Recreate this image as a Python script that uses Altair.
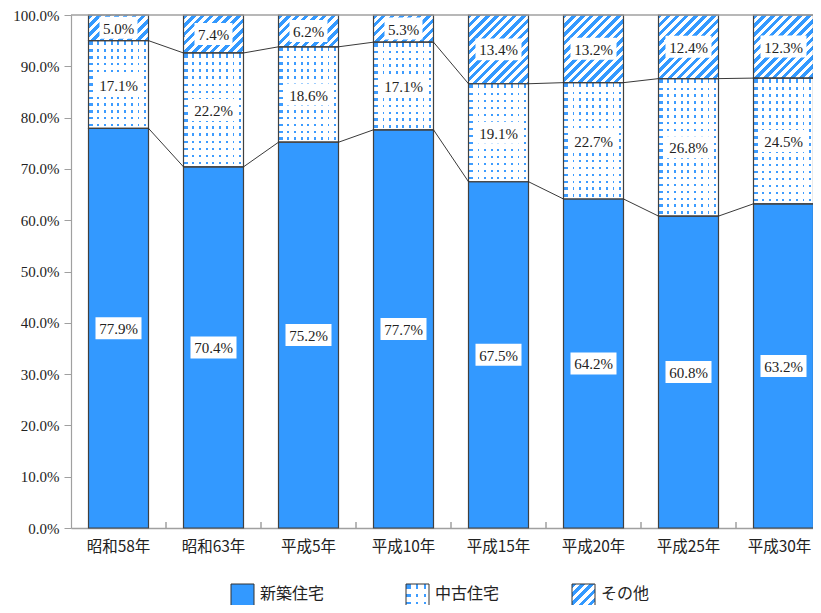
import math
import altair as alt
import pandas as pd

categories = ["昭和58年", "昭和63年", "平成5年", "平成10年", "平成15年", "平成20年", "平成25年", "平成30年"]
series_names = ["新築住宅", "中古住宅", "その他"]
new_build = [77.9, 70.4, 75.2, 77.7, 67.5, 64.2, 60.8, 63.2]
used_home = [17.1, 22.2, 18.6, 17.1, 19.1, 22.7, 26.8, 24.5]
other = [5.0, 7.4, 6.2, 5.3, 13.4, 13.2, 12.4, 12.3]
y_ticks = [0, 10, 20, 30, 40, 50, 60, 70, 80, 90, 100]

# ---- layout / style ----
W, H = 742, 513
STEP = 95.0
RANGE_END = STEP * len(categories)
BW = 60.0
P_IN = 1 - BW / STEP
BLUE = "#3399ff"
DOT = "#3d9cff"
EDGE = "#404040"
GRAY = "#a0a0a0"
SERIF = "Liberation Serif"
CJK = "Noto Sans CJK JP"
CLEAR = "#ffffff00"

rows = []
for i, c in enumerate(categories):
    vals = [new_build[i], used_home[i], other[i]]
    tot = sum(vals)
    base = 0.0
    for s, v in zip(series_names, vals):
        y0 = base
        y1 = base + v * 100.0 / tot
        rows.append(dict(period=c, series=s, v=v, y0=y0, y1=y1, mid=(y0 + y1) / 2,
                         label=f"{v:.1f}%"))
        base = y1
df = pd.DataFrame(rows)

links = []
for s in series_names[:2]:
    sub = df[df["series"] == s].reset_index(drop=True)
    for i in range(len(sub) - 1):
        links.append(dict(period=sub["period"][i], period2=sub["period"][i + 1],
                          ya=sub["y1"][i], yb=sub["y1"][i + 1]))
links = pd.DataFrame(links)

xscale = alt.Scale(domain=categories, range=[0, RANGE_END], paddingInner=P_IN, paddingOuter=P_IN / 2)
xaxis = alt.Axis(title=None, labelAngle=0, labelFont=CJK, labelFontSize=15.5, labelColor="#222",
                 labelPadding=11, tickSize=0, domainColor=GRAY, domainWidth=1.5, grid=False,
                 labelOffset={"condition": {"test": f"datum.value === '{categories[-1]}'", "value": -4},
                              "value": 0})
yscale = alt.Scale(domain=[0, 100], nice=False)
yaxis = alt.Axis(title=None, values=y_ticks, labelExpr="format(datum.value, '.1f') + '%'",
                 labelFont=SERIF, labelFontSize=15, labelColor="#222", labelPadding=5,
                 tickSize=7, tickColor=GRAY, domainColor=GRAY, domainWidth=1.2, grid=False)


def X(field="period"):
    return alt.X(f"{field}:N", sort=categories, scale=xscale, axis=xaxis)


def Y(field):
    return alt.Y(f"{field}:Q", scale=yscale, axis=yaxis)


def stripe_stops(n, frac, c1, c2, start=0.0):
    stops = []
    k = 0
    while True:
        a = (k + start) / n
        b = (k + start + frac) / n
        e = (k + 1 + start) / n
        if a >= 1:
            break
        stops.append({"offset": round(min(a, 1), 5), "color": c1})
        stops.append({"offset": round(min(b, 1), 5), "color": c1})
        if b < 1:
            stops.append({"offset": round(min(b, 1), 5), "color": c2})
            stops.append({"offset": round(min(e, 1), 5), "color": c2})
        k += 1
    return stops


def vert_dots(w):
    n = max(1, round(w / 6.7))
    return {"gradient": "linear", "x1": 0, "y1": 0, "x2": 1, "y2": 0,
            "stops": stripe_stops(n, 0.27, DOT, "#ffffff", 0.35)}


def horiz_mask(h):
    n = max(1, round(h / 7.0))
    return {"gradient": "linear", "x1": 0, "y1": 0, "x2": 0, "y2": 1,
            "stops": stripe_stops(n, 0.36, CLEAR, "#ffffff", 0.3)}


def diag(w, h):
    c = (w + h) / (w * w + h * h)
    n = (w + h) / 9.0
    return {"gradient": "linear", "x1": 0, "y1": 0, "x2": round(c * w, 5), "y2": round(c * h, 5),
            "stops": stripe_stops(n, 0.5, BLUE, "#ffffff")}


base = alt.Chart(df)
layers = []

# new-build bars
layers.append(base.transform_filter(alt.datum.series == series_names[0])
              .mark_bar(fill=BLUE).encode(x=X(), y=Y("y1"), y2="y0"))

# used-home dotted pattern
used_df = df[df["series"] == series_names[1]]
layers.append(alt.Chart(used_df).mark_bar(fill="white").encode(x=X(), y=Y("y1"), y2="y0"))
layers.append(alt.Chart(used_df).mark_bar(fill=vert_dots(BW)).encode(x=X(), y=Y("y1"), y2="y0"))
for _, r in used_df.iterrows():
    h = (r["y1"] - r["y0"]) / 100 * H
    layers.append(alt.Chart(used_df[used_df["period"] == r["period"]]).mark_bar(fill=horiz_mask(h))
                  .encode(x=X(), y=Y("y1"), y2="y0"))

# other: diagonal stripes
oth_df = df[df["series"] == series_names[2]]
for _, r in oth_df.iterrows():
    h = (r["y1"] - r["y0"]) / 100 * H
    layers.append(alt.Chart(oth_df[oth_df["period"] == r["period"]]).mark_bar(fill=diag(BW, h))
                  .encode(x=X(), y=Y("y1"), y2="y0"))

# outlines
layers.append(base.mark_bar(fillOpacity=0, stroke=EDGE, strokeWidth=1.2)
              .encode(x=X(), y=Y("y1"), y2="y0"))

# series lines
layers.append(alt.Chart(links).mark_rule(color="#222", strokeWidth=0.9,
                                          xOffset=BW / 2, x2Offset=-BW / 2)
              .encode(x=X(), x2="period2:N", y=Y("ya"), y2="yb"))

# x ticks between categories
tick_df = pd.DataFrame({"period": categories[1:]})
layers.append(alt.Chart(tick_df).mark_rule(color=GRAY, strokeWidth=1.5, xOffset=-STEP / 2)
              .encode(x=X(), y=alt.value(H), y2=alt.value(H - 6)))

# top frame line
layers.append(alt.Chart(tick_df.head(1)).mark_rule(color=GRAY, strokeWidth=1.5)
              .encode(x=alt.value(0), x2=alt.value(W + 20), y=alt.value(0)))

# label boxes
wide_path = "M-1,-0.478L1,-0.478L1,0.478L-1,0.478Z"
narrow_path = "M-1,-0.579L1,-0.579L1,0.579L-1,0.579Z"
layers.append(base.transform_filter("datum.v >= 10")
              .mark_point(shape=wide_path, filled=True, fill="white", opacity=1, size=46 * 46)
              .encode(x=X(), y=Y("mid")))
layers.append(base.transform_filter("datum.v < 10")
              .mark_point(shape=narrow_path, filled=True, fill="white", opacity=1, size=38 * 38)
              .encode(x=X(), y=Y("mid")))
layers.append(base.mark_text(font=SERIF, fontSize=15, color="#222", baseline="middle", dy=1)
              .encode(x=X(), y=Y("mid"), text="label:N"))

# legend (manual, to show patterns)
LEG_Y = 569
SW = 23
leg_x = [160, 335, 501]
leg_fills = [[BLUE], ["white", vert_dots(SW), horiz_mask(SW)], [diag(SW, SW)]]
for name, lx, fills in zip(series_names, leg_x, leg_fills):
    ldf = pd.DataFrame({"name": [name]})
    for f in fills:
        layers.append(alt.Chart(ldf).mark_rect(fill=f).encode(
            x=alt.value(lx), x2=alt.value(lx + SW), y=alt.value(LEG_Y), y2=alt.value(LEG_Y + SW)))
    layers.append(alt.Chart(ldf).mark_rect(fillOpacity=0, stroke="#333", strokeWidth=1).encode(
        x=alt.value(lx), x2=alt.value(lx + SW), y=alt.value(LEG_Y), y2=alt.value(LEG_Y + SW)))
    layers.append(alt.Chart(ldf).mark_text(font=CJK, fontSize=16, color="#222", align="left",
                                           baseline="middle").encode(
        x=alt.value(lx + SW + 6), y=alt.value(LEG_Y + 10), text="name:N"))

chart = alt.layer(*layers).properties(
    width=W, height=H,
    autosize=alt.AutoSizeParams(type="none"),
    padding={"left": 63, "top": 7, "right": 0, "bottom": 77},
).configure_view(stroke=None)

chart.save("out.html", embed_options={"renderer": "svg", "actions": False})
